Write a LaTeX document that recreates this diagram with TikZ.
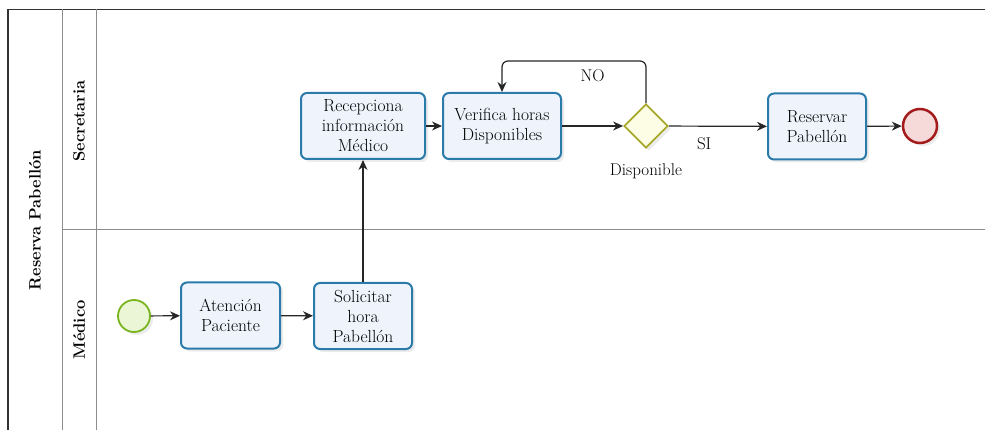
\documentclass[tikz,border=0pt]{standalone}
\usepackage{fontspec}
\usetikzlibrary{arrows.meta,shapes.geometric,shadows}
\definecolor{taskborder}{HTML}{2A7AAA}
\definecolor{taskfill}{HTML}{EEF3FC}
\definecolor{gateborder}{HTML}{A8A82A}
\definecolor{gatefill}{HTML}{FDFDE6}
\definecolor{startborder}{HTML}{7AB51D}
\definecolor{startfill}{HTML}{EAF6D6}
\definecolor{endborder}{HTML}{A31B1B}
\definecolor{endfill}{HTML}{F6DADA}
\begin{document}
\begin{tikzpicture}[x=1pt,y=-1pt,
  every node/.style={font=\fontsize{17.5}{20}\selectfont},
  task/.style={draw=taskborder,line width=2pt,fill=taskfill,rounded corners=6pt,
    minimum height=66pt,align=center,inner sep=1pt,
    drop shadow={shadow xshift=3pt,shadow yshift=-3pt,opacity=0.15}},
  gate/.style={diamond,draw=gateborder,line width=1.8pt,fill=gatefill,
    minimum width=44pt,minimum height=44pt,inner sep=0pt,
    drop shadow={shadow xshift=3pt,shadow yshift=-3pt,opacity=0.15}},
  startev/.style={circle,draw=startborder,line width=1.8pt,fill=startfill,minimum size=32pt,inner sep=0pt,
    drop shadow={shadow xshift=3pt,shadow yshift=-3pt,opacity=0.15}},
  endev/.style={circle,draw=endborder,line width=2.5pt,fill=endfill,minimum size=34pt,inner sep=0pt,
    drop shadow={shadow xshift=3pt,shadow yshift=-3pt,opacity=0.15}},
  flow/.style={draw=black!85,line width=1.2pt,-{Stealth[length=10pt,width=9pt]}},
  lanelbl/.style={rotate=90,font=\bfseries\fontsize{16.5}{18}\selectfont\addfontfeature{LetterSpace=6}},
  lbl/.style={font=\fontsize{17}{18}\selectfont}
]
\useasboundingbox (0,0) rectangle (985,430);
% pool and lanes
\draw[line width=1.2pt,black!80] (8,430) -- (8,9.5) -- (985,9.5);
\draw[line width=1pt,black!45] (62,9.5) -- (62,430);
\draw[line width=1pt,black!45] (96,9.5) -- (96,430);
\draw[line width=1pt,black!45] (62,230) -- (985,230);
\node[lanelbl] (pool) at (35,220) {Reserva Pabellón};
\node[lanelbl] (lsec) at (79,121) {Secretaria};
\node[lanelbl] (lmed) at (79,330) {Médico};
% nodes
\node[startev] (start) at (134,316) {};
\node[task,minimum width=99pt] (aten) at (230.5,315.5) {Atención\\Paciente};
\node[task,minimum width=98pt] (soli) at (363,316) {Solicitar\\hora\\Pabellón};
\node[task,minimum width=124pt] (rece) at (363,126) {Recepciona\\información\\Médico};
\node[task,minimum width=118pt] (veri) at (502,126) {Verifica horas\\Disponibles};
\node[gate] (gw) at (646,126) {};
\node[task,minimum width=98pt] (rese) at (817,126.5) {Reservar\\Pabellón};
\node[endev] (fin) at (920,126) {};
\node[lbl] (disp) at (646,171) {Disponible};
% flows
\draw[flow] (start) -- (aten);
\draw[flow] (aten) -- (soli);
\draw[flow] (soli) -- (rece);
\draw[flow] (rece) -- (veri);
\draw[flow] (veri) -- (gw);
\draw[flow] (gw) -- node[lbl,below=8pt,pos=0.36] (si) {SI} (rese);
\draw[flow,rounded corners=6pt] (gw.north) -- (646,61) -- node[lbl,below=5pt,pos=0.37] (no) {NO} (502,61) -- (veri.north);
\draw[flow] (rese) -- (fin);
\end{tikzpicture}
\end{document}
